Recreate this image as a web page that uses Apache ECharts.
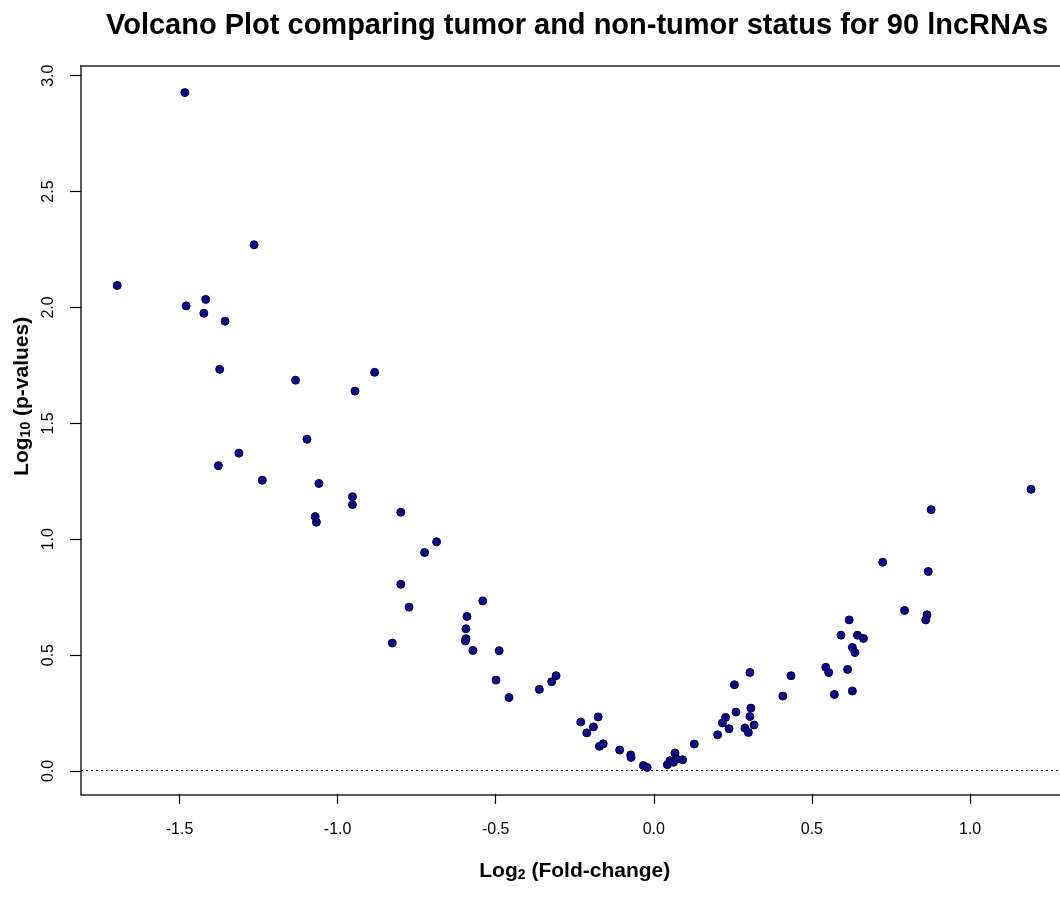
<!DOCTYPE html>
<html>
<head>
<meta charset="utf-8">
<script src="https://cdn.jsdelivr.net/npm/echarts@6/dist/echarts.min.js"></script>
<style>
  html, body { margin: 0; padding: 0; background: #fff; }
  #chart { width: 1060px; height: 899px; }
</style>
</head>
<body>
<div id="chart"></div>
<script>
// log2 fold-change (x) and log10 p-value (y) for each lncRNA
const log2fc = [
  -1.483, -1.264, -1.697, -1.479, -1.417, -1.423, -1.356,
  -1.373, -1.133, -0.883, -0.945, -1.097, -1.312, -1.377, -1.238, -1.059,
  -0.953, -0.953, -1.071, -1.067, -0.800, -0.800,
  -0.687, -0.725, -0.774, -0.827, -0.541, -0.591, -0.594, -0.594, -0.596,
  -0.572, -0.489, -0.499, -0.458, -0.362, -0.323, -0.309,
  -0.231, -0.212, -0.191, -0.176, -0.172, -0.160, -0.108, -0.073, -0.072,
  -0.033, -0.021, 0.043, 0.051, 0.067, 0.072, 0.091, 0.062, 0.128,
  0.202, 0.217, 0.227, 0.238, 0.260, 0.255,
  0.304, 0.307, 0.304, 0.288, 0.299, 0.317, 0.434, 0.408, 0.544, 0.553,
  0.571, 0.613, 0.628, 0.592, 0.618, 0.644, 0.663, 0.628, 0.636, 0.793,
  1.193, 0.877, 0.724, 0.868, 0.864, 0.860
]
const log10p = [
  2.928, 2.271, 2.095, 2.007, 2.035, 1.975, 1.941,
  1.733, 1.686, 1.720, 1.639, 1.431, 1.371, 1.317, 1.254, 1.240,
  1.183, 1.149, 1.097, 1.073, 1.116, 0.805,
  0.988, 0.942, 0.706, 0.551, 0.733, 0.666, 0.613, 0.570, 0.560,
  0.519, 0.518, 0.391, 0.316, 0.351, 0.384, 0.410,
  0.210, 0.163, 0.189, 0.232, 0.105, 0.116, 0.089, 0.068, 0.057,
  0.022, 0.014, 0.026, 0.043, 0.076, 0.050, 0.047, 0.036, 0.115,
  0.155, 0.206, 0.230, 0.181, 0.253, 0.371,
  0.424, 0.270, 0.234, 0.184, 0.165, 0.197, 0.410, 0.322, 0.446, 0.424,
  0.329, 0.437, 0.344, 0.585, 0.651, 0.585, 0.571, 0.532, 0.510, 0.692,
  1.215, 1.127, 0.900, 0.860, 0.673, 0.651
]
// axis tick values
const xTicks = [-1.5, -1.0, -0.5, 0.0, 0.5, 1.0]
const yTicks = [0.0, 0.5, 1.0, 1.5, 2.0, 2.5, 3.0]
// visible plot limits (box runs off the right edge of the picture)
const xRange = [-1.8115, 1.2846]
const yRange = [-0.103, 3.045]

const points = log2fc.map((x, i) => [x, log10p[i]])
const font = "'Liberation Sans', Arial, sans-serif"
const boxLine = { show: true, onZero: false, lineStyle: { color: '#222', width: 1.5 } }

let myChart = echarts.init(document.getElementById('chart'))
let option = {
  backgroundColor: '#fff',
  animation: false,
  title: {
    text: 'Volcano Plot comparing tumor and non-tumor status for 90 lncRNAs',
    left: 572,
    textAlign: 'center',
    top: 6,
    textStyle: { fontFamily: font, fontSize: 29, fontWeight: 'bold', color: '#000' }
  },
  grid: [
    {
      // data area
      left: 81,
      top: 65.5,
      right: 0,
      bottom: 899 - 794.5
    },
    {
      // tick grid: spans exactly from first to last tick
      left: 179.5,
      right: 90,
      top: 75.7,
      bottom: 128
    }
  ],
  xAxis: [
    {
      type: 'value', gridIndex: 0, min: xRange[0], max: xRange[1], position: 'bottom',
      axisLine: boxLine, axisTick: { show: false }, axisLabel: { show: false }, splitLine: { show: false }
    },
    {
      type: 'value',
      gridIndex: 1,
      min: xTicks[0],
      max: xTicks[xTicks.length - 1],
      interval: 0.5,
      offset: 22.8,
      axisLine: { show: false, onZero: false },
      axisTick: { show: true, length: 10, lineStyle: { color: '#000', width: 1.2 } },
      splitLine: { show: false },
      axisLabel: {
        margin: 28,
        fontFamily: font,
        fontSize: 16,
        color: '#000',
        formatter: v => v.toFixed(1)
      },
      name: '{b|Log}{s|2}{b| (Fold-change)}',
      nameLocation: 'middle',
      nameGap: 66,
      nameTextStyle: {
        rich: {
          b: { fontFamily: font, fontSize: 21, fontWeight: 'bold', color: '#000' },
          s: { fontFamily: font, fontSize: 14, fontWeight: 'bold', color: '#000', padding: [8, 0, 0, 0] }
        }
      }
    },
    {
      // top side of the box
      type: 'value', gridIndex: 0, min: xRange[0], max: xRange[1], position: 'top',
      axisLine: boxLine, axisTick: { show: false }, axisLabel: { show: false }, splitLine: { show: false }
    }
  ],
  yAxis: [
    {
      type: 'value', gridIndex: 0, min: yRange[0], max: yRange[1], position: 'left',
      axisLine: boxLine, axisTick: { show: false }, axisLabel: { show: false }, splitLine: { show: false }
    },
    {
      type: 'value',
      gridIndex: 1,
      min: yTicks[0],
      max: yTicks[yTicks.length - 1],
      interval: 0.5,
      offset: 98.5,
      axisLine: { show: false, onZero: false },
      axisTick: { show: true, length: 11, lineStyle: { color: '#000', width: 1.2 } },
      splitLine: { show: false },
      axisLabel: {
        rotate: 90,
        margin: 24,
        fontFamily: font,
        fontSize: 16,
        color: '#000',
        formatter: v => v.toFixed(1)
      },
      name: '{b|Log}{s|10}{b| (p-values)}',
      nameLocation: 'middle',
      nameGap: 48,
      nameTextStyle: {
        padding: [0, 0, 0, 54],
        rich: {
          b: { fontFamily: font, fontSize: 21, fontWeight: 'bold', color: '#000' },
          s: { fontFamily: font, fontSize: 14, fontWeight: 'bold', color: '#000', padding: [8, 0, 0, 0] }
        }
      }
    }
  ],
  series: [
    {
      name: 'lncRNA',
      type: 'scatter',
      xAxisIndex: 0,
      yAxisIndex: 0,
      symbol: 'circle',
      symbolSize: 8,
      itemStyle: {
        color: '#0a0a8a',
        borderColor: '#000030',
        borderWidth: 1,
        opacity: 1
      },
      markLine: {
        silent: true,
        symbol: 'none',
        label: { show: false },
        lineStyle: { color: '#000', type: [2, 3], width: 1.2 },
        data: [{ yAxis: 0 }]
      },
      data: points
    }
  ]
}
myChart.setOption(option)
</script>
</body>
</html>
